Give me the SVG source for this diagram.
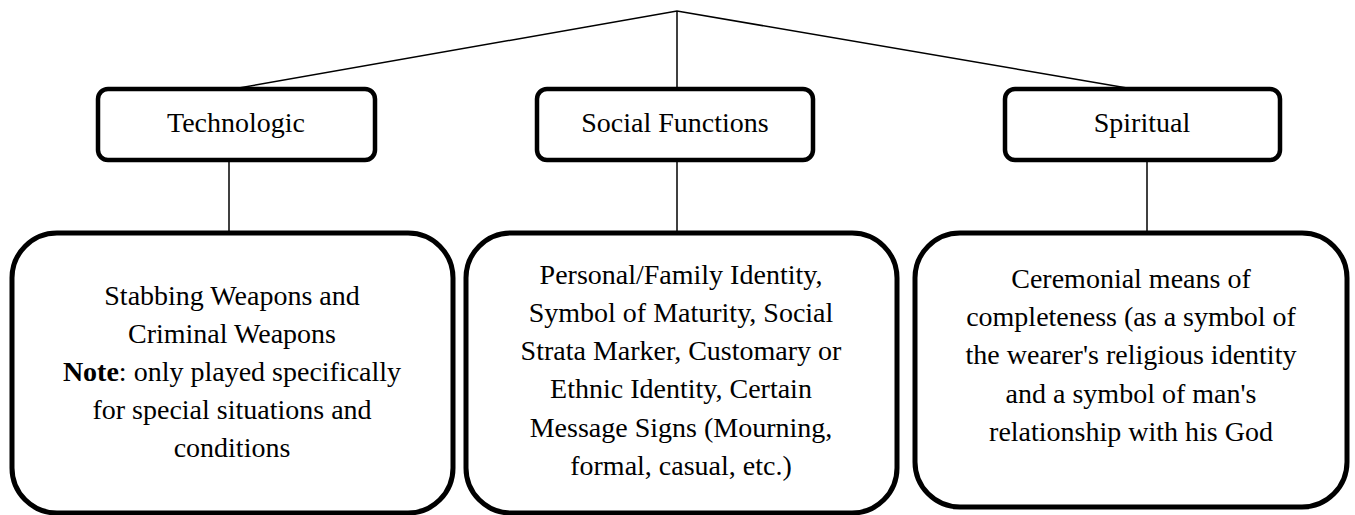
<svg xmlns="http://www.w3.org/2000/svg" width="1355" height="515" viewBox="0 0 1355 515">
  <style>
    .hdr { fill: #ffffff; stroke: #000000; stroke-width: 4.5; }
    .big { fill: #ffffff; stroke: #000000; stroke-width: 5; }
    .conn { fill: none; stroke: #000000; stroke-width: 1.5; }
    text { font-family: "Liberation Serif", "Times New Roman", serif; fill: #000000; text-anchor: middle; }
    .h { font-size: 28px; }
    .b { font-size: 28px; }
  </style>
  <rect width="1355" height="515" fill="#ffffff"/>
  <g id="connectors">
    <polyline class="conn" points="233,89 677,11 1133,89"/>
    <line class="conn" x1="677" y1="11" x2="677" y2="89"/>
    <line class="conn" x1="229" y1="160" x2="229" y2="233"/>
    <line class="conn" x1="677" y1="160" x2="677" y2="233"/>
    <line class="conn" x1="1147" y1="160" x2="1147" y2="233"/>
  </g>
  <g id="technologic">
    <rect class="hdr" x="98" y="89" width="277" height="71" rx="10"/>
    <text class="h" x="236" y="132">Technologic</text>
  </g>
  <g id="social-functions">
    <rect class="hdr" x="537" y="89" width="276" height="71" rx="10"/>
    <text class="h" x="675" y="132">Social Functions</text>
  </g>
  <g id="spiritual">
    <rect class="hdr" x="1005" y="89" width="275" height="71" rx="10"/>
    <text class="h" x="1142" y="132">Spiritual</text>
  </g>
  <g id="technologic-detail">
    <rect class="big" x="12" y="233" width="441" height="280" rx="45"/>
    <text class="b" x="232" y="305">Stabbing Weapons and</text>
    <text class="b" x="232" y="343">Criminal Weapons</text>
    <text class="b" x="232" y="381"><tspan font-weight="bold">Note</tspan>: only played specifically</text>
    <text class="b" x="232" y="419">for special situations and</text>
    <text class="b" x="232" y="457">conditions</text>
  </g>
  <g id="social-detail">
    <rect class="big" x="466" y="233" width="431" height="280" rx="45"/>
    <text class="b" x="681" y="284">Personal/Family Identity,</text>
    <text class="b" x="681" y="322">Symbol of Maturity, Social</text>
    <text class="b" x="681" y="360">Strata Marker, Customary or</text>
    <text class="b" x="681" y="398">Ethnic Identity, Certain</text>
    <text class="b" x="681" y="437">Message Signs (Mourning,</text>
    <text class="b" x="681" y="475">formal, casual, etc.)</text>
  </g>
  <g id="spiritual-detail">
    <rect class="big" x="915" y="233" width="432" height="274" rx="45"/>
    <text class="b" x="1131" y="288">Ceremonial means of</text>
    <text class="b" x="1131" y="326">completeness (as a symbol of</text>
    <text class="b" x="1131" y="364">the wearer's religious identity</text>
    <text class="b" x="1131" y="403">and a symbol of man's</text>
    <text class="b" x="1131" y="441">relationship with his God</text>
  </g>
</svg>
